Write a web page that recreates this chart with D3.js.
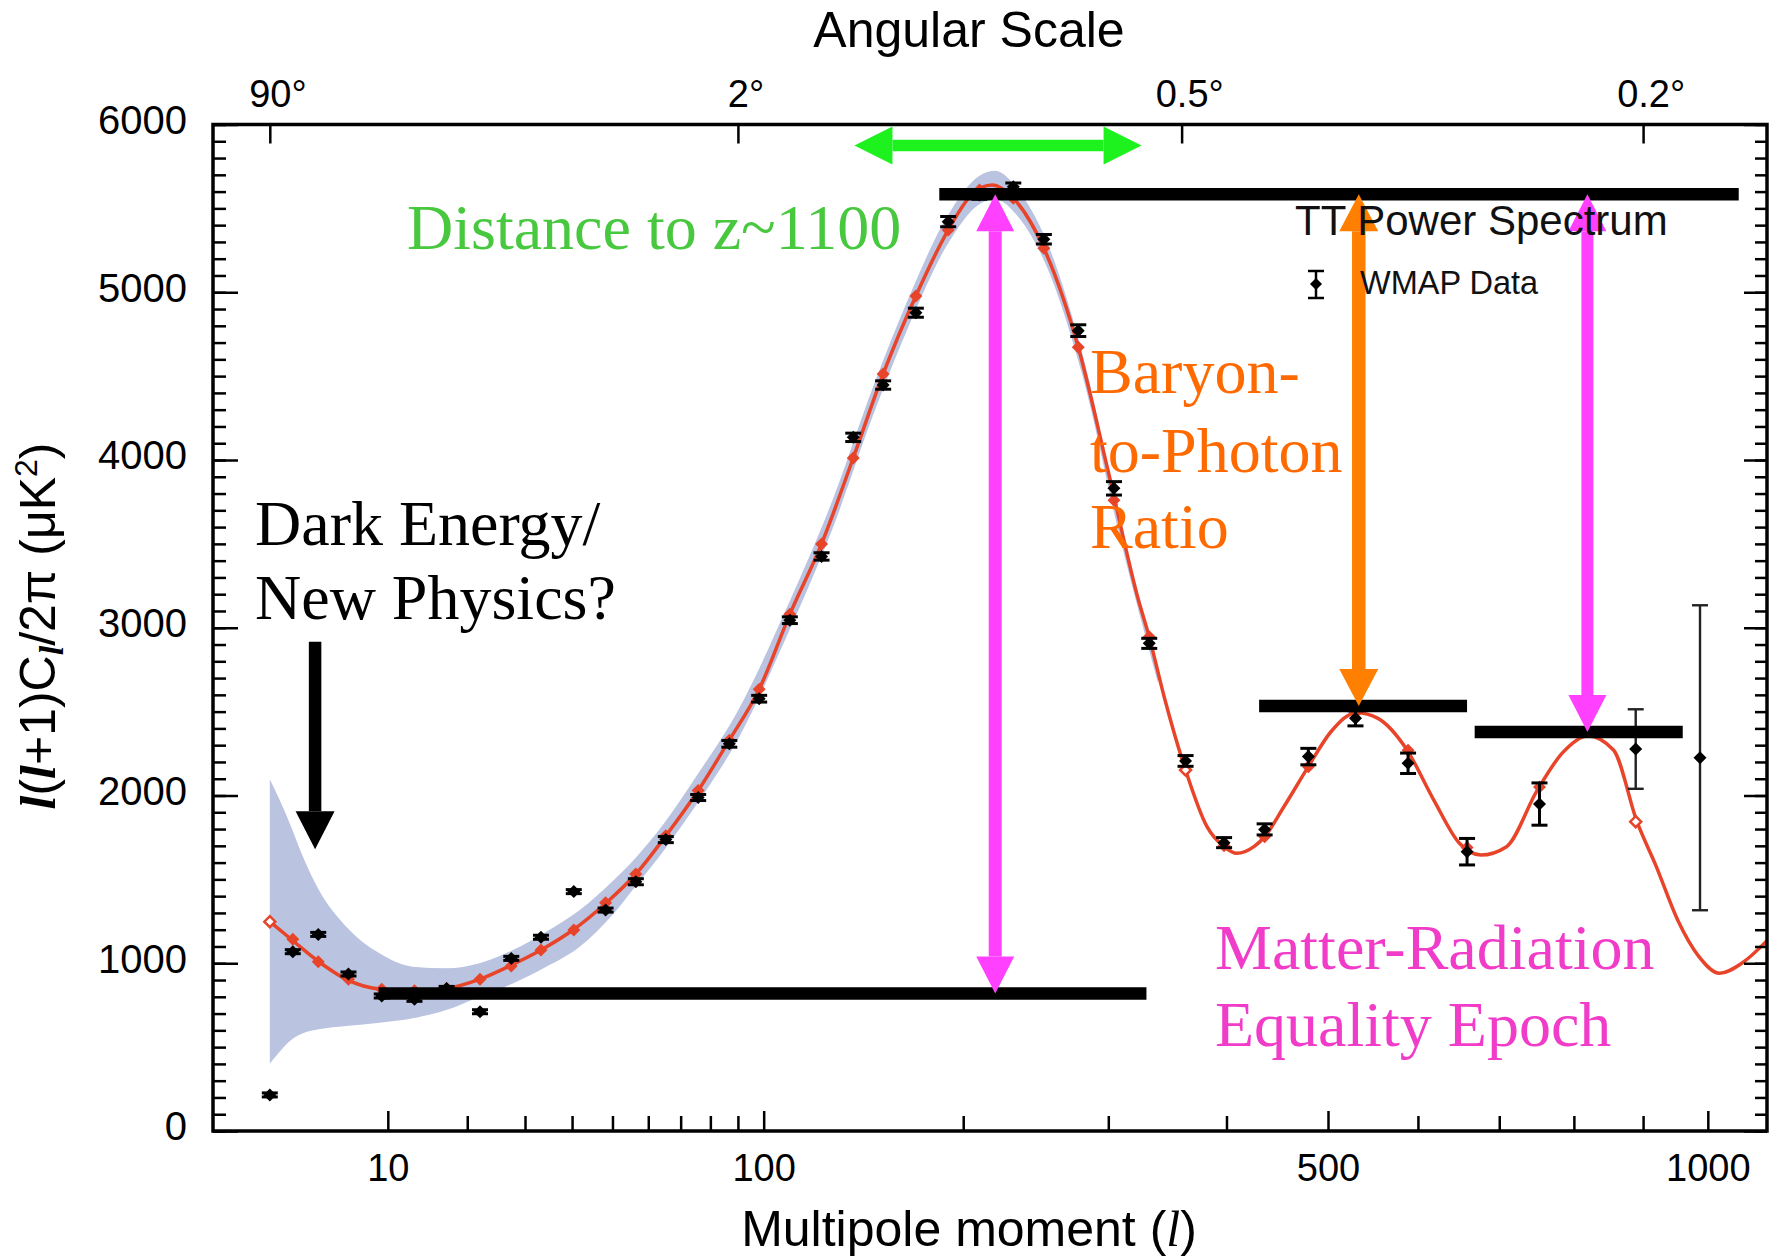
<!DOCTYPE html>
<html>
<head>
<meta charset="utf-8">
<script src="https://cdn.jsdelivr.net/npm/d3@7"></script>
<style>
  body { margin: 0; background: #fff; }
  text { font-family: "Liberation Sans", Arial, sans-serif; }
  .serif { font-family: "Liberation Serif", "Times New Roman", serif; }
</style>
</head>
<body>
<div id="chart"></div>
<script>
// WMAP binned TT data: multipole, power (uK^2), error
const dataL = [2, 3, 4.4, 6.5, 9.4, 12.9, 17, 22, 27.4, 33.2, 40.4, 48.2,
  56.4, 65.3, 75.8, 86.8, 98.2, 110.8, 124.8, 139.8, 154.9, 172.5, 191, 210,
  231.8, 252.6, 277.3, 304.4, 332.7, 363.4, 397.8, 436, 479.6, 529.4, 588.5,
  659.3, 752.9, 889, 987.6];
const dataV = [215, 1069, 1172, 936, 805, 785, 850, 711, 1029, 1155, 1427, 1317,
  1486, 1737, 1988, 2308, 2577, 3045, 3425, 4135, 4447, 4878, 5421, 5580,
  5629, 5316, 4771, 3831, 2907, 2206, 1719, 1798, 2232, 2460, 2192,
  1665, 1949, 2277, 2225];
const dataErr = [12, 12, 12, 12, 12, 12, 12, 12, 12, 12, 12, 12,
  18, 18, 18, 20, 20, 20, 22, 25, 25, 27, 30, 25,
  22, 28, 35, 40, 30, 32, 30, 33, 49, 45, 61,
  79, 126, 237, 909];

// best-fit model sampled along the curve
const modelL = [2, 2.92, 4.44, 6.33, 9.35, 12.9, 17, 21.9, 27.1, 33.2, 40.2, 48.4,
  56.4, 65.3, 75.8, 86.8, 98.2, 110.8, 124.8, 139.8, 154.9, 172.5, 191, 205, 218,
  231.8, 252.6, 277.3, 300, 323.9, 332.6, 345.1, 363.4, 382.3, 397.7, 409.7, 425.7,
  436, 454.9, 479.6, 503.1, 530.7, 554.2, 586.1, 618.8, 649.9, 676.5, 709.4, 748.9,
  783.5, 819.5, 856.4, 890.9, 919.9, 952.6, 985.9, 1018.8, 1055, 1097];
const modelV = [1248, 1143, 1009, 904, 845, 836, 850, 904, 984, 1079, 1198, 1361,
  1532, 1760, 2030, 2330, 2634, 3080, 3500, 4012, 4513, 4978, 5371, 5580, 5639,
  5560, 5262, 4672, 3930, 3165, 2947, 2589, 2152, 1814, 1695, 1655, 1695,
  1754, 1933, 2172, 2380, 2494, 2460, 2281, 1973, 1715, 1645, 1695, 2023,
  2251, 2355, 2271, 1844, 1576, 1258, 1040, 940, 1000, 1135];

// model value at each bin centre (red diamonds)
const binModelV = [1248, 1143, 1009, 904, 845, 836, 850, 904, 984, 1079, 1198, 1361,
  1532, 1760, 2030, 2330, 2634, 3080, 3500, 4012, 4513, 4978, 5371, 5610,
  5560, 5262, 4672, 3760, 2947, 2152, 1700, 1754, 2172, 2494, 2270,
  1690, 2050, 1844, null];
const openBins = [2, 363.4, 889];

// cosmic variance band
const bandL  = [2, 2.4, 2.92, 3.52, 4.44, 6.33, 9.19, 12.72, 16.95, 21.93, 27.7, 34.3,
  41.8, 50.1, 56, 65, 75, 90, 110, 130, 150, 170, 190, 210, 220, 235, 255, 280, 310, 340];
const bandLo = [403, 473, 542, 582, 606, 626, 646, 672, 721, 801, 880, 979,
  1099, 1290, 1450, 1680, 1940, 2335, 2965, 3595, 4275, 4835, 5275, 5525, 5555, 5450, 5145, 4515, 3510, 2670];
const bandHi = [2097, 1973, 1814, 1635, 1437, 1218, 1059, 979, 970, 1000, 1079, 1188,
  1317, 1490, 1620, 1840, 2110, 2505, 3135, 3765, 4445, 5005, 5445, 5695, 5725, 5610, 5295, 4645, 3610, 2730];

// axes
const yMajor = [0, 1000, 2000, 3000, 4000, 5000, 6000];
const yMinor = d3.range(0, 6001, 100);
const xMajor = [10, 100, 500, 1000];
const xMinor = [20, 30, 40, 50, 60, 70, 80, 90, 200, 300, 400, 600, 700, 800, 900];
const angTicks = [2, 90, 360, 900];
const angLabels = ["90°", "2°", "0.5°", "0.2°"];

const W = 1771, H = 1257;
const margin = { top: 124.5, right: 4, bottom: 126, left: 213 };
const width = W - margin.left - margin.right,
      height = H - margin.top - margin.bottom;

const svg = d3.select("#chart").append("svg")
    .attr("width", W).attr("height", H);
const g = svg.append("g")
    .attr("transform", "translate(" + margin.left + "," + margin.top + ")");

const x = d3.scalePow().exponent(0.4).domain([0.48, 1097]).range([0, width]);
const y = d3.scaleLinear().domain([0, 6000]).range([height, 0]);

const plot = g.append("g");
plot.append("clipPath").attr("id", "clip")
  .append("rect").attr("width", width).attr("height", height);
const inner = plot.append("g").attr("clip-path", "url(#clip)");

// band
const band = bandL.map((l, i) => ({ l, lo: bandLo[i], hi: bandHi[i] }));
inner.append("path")
    .datum(band)
    .attr("fill", "#bac4e1")
    .attr("d", d3.area()
        .x(d => x(d.l)).y0(d => y(d.lo)).y1(d => y(d.hi))
        .curve(d3.curveMonotoneX));

// model curve
const model = modelL.map((l, i) => ({ l, v: modelV[i] }));
inner.append("path")
    .datum(model)
    .attr("fill", "none")
    .attr("stroke", "#e8442a")
    .attr("stroke-width", 3.5)
    .attr("d", d3.line().x(d => x(d.l)).y(d => y(d.v)).curve(d3.curveMonotoneX));

function diamond(cx, cy, rx, ry) {
  return "M" + cx + "," + (cy - ry) + "L" + (cx + rx) + "," + cy +
         "L" + cx + "," + (cy + ry) + "L" + (cx - rx) + "," + cy + "Z";
}

// model diamonds at bin centres
const bins = dataL.map((l, i) => ({ l, v: binModelV[i], open: openBins.includes(l) }))
    .filter(d => d.v !== null);
inner.selectAll(".mdl").data(bins).enter().append("path")
    .attr("d", d => d.open ? diamond(x(d.l), y(d.v), 5.5, 5.5) : diamond(x(d.l), y(d.v), 6.5, 6.5))
    .attr("fill", d => d.open ? "#fff" : "#e8442a")
    .attr("stroke", "#e8442a")
    .attr("stroke-width", d => d.open ? 2.5 : 0);

// data with error bars
const data = dataL.map((l, i) => ({ l, v: dataV[i], e: dataErr[i] }));
const pts = inner.selectAll(".pt").data(data).enter().append("g");
pts.append("line")
    .attr("x1", d => x(d.l)).attr("x2", d => x(d.l))
    .attr("y1", d => y(d.v - d.e)).attr("y2", d => y(d.v + d.e))
    .attr("stroke", d => d.e > 200 ? "#222" : "#000")
    .attr("stroke-width", d => d.e > 200 ? 2.4 : 3);
[-1, 1].forEach(s => {
  pts.append("line")
      .attr("x1", d => x(d.l) - 8).attr("x2", d => x(d.l) + 8)
      .attr("y1", d => y(d.v + s * d.e)).attr("y2", d => y(d.v + s * d.e))
      .attr("stroke", d => d.e > 200 ? "#222" : "#000")
      .attr("stroke-width", d => d.e > 200 ? 2.4 : 3);
});
pts.append("path")
    .attr("d", d => diamond(x(d.l), y(d.v), 6.5, 6.5))
    .attr("fill", "#000");

// axes
function styleAxis(sel) {
  sel.select(".domain").remove();
  sel.selectAll(".tick line").attr("stroke", "#000").attr("stroke-width", 2.5);
  sel.selectAll(".tick text").attr("fill", "#000")
     .style("font-family", "'Liberation Sans', Arial, sans-serif");
}
g.append("g").attr("transform", "translate(0," + height + ")")
    .call(d3.axisBottom(x).tickValues(xMajor).tickSize(-20).tickPadding(23).tickFormat(d3.format("d")))
    .call(styleAxis).selectAll("text").attr("font-size", 38);
g.append("g").attr("transform", "translate(0," + height + ")")
    .call(d3.axisBottom(x).tickValues(xMinor).tickSize(-15).tickFormat(""))
    .call(styleAxis);
g.append("g")
    .call(d3.axisTop(x).tickValues(angTicks).tickSize(-19).tickPadding(18)
        .tickFormat((d, i) => angLabels[i]))
    .call(styleAxis).selectAll("text").attr("font-size", 38).attr("dx", "0.2em");
g.append("g")
    .call(d3.axisLeft(y).tickValues(yMajor).tickSize(-25).tickPadding(26).tickFormat(d3.format("d")))
    .call(styleAxis).selectAll("text").attr("font-size", 40).attr("dy", "0.22em");
g.append("g")
    .call(d3.axisLeft(y).tickValues(yMinor).tickSize(-13).tickFormat(""))
    .call(styleAxis);
g.append("g").attr("transform", "translate(" + width + ",0)")
    .call(d3.axisRight(y).tickValues(yMajor).tickSize(-23).tickFormat(""))
    .call(styleAxis);
g.append("g").attr("transform", "translate(" + width + ",0)")
    .call(d3.axisRight(y).tickValues(yMinor).tickSize(-12).tickFormat(""))
    .call(styleAxis);

g.append("rect")
    .attr("width", width).attr("height", height)
    .attr("fill", "none").attr("stroke", "#000").attr("stroke-width", 3.5);

// axis titles
svg.append("text")
    .attr("x", 969).attr("y", 47).attr("text-anchor", "middle")
    .attr("font-size", 50).text("Angular Scale");
const xt = svg.append("text")
    .attr("x", 969).attr("y", 1246).attr("text-anchor", "middle")
    .attr("font-size", 50);
xt.append("tspan").text("Multipole moment (");
xt.append("tspan").attr("class", "serif").style("font-style", "italic").text("l");
xt.append("tspan").text(")");

const yt = svg.append("text")
    .attr("transform", "translate(55,626) rotate(-90)")
    .attr("text-anchor", "middle").attr("font-size", 50);
const ell = sel => sel.attr("class", "serif").style("font-style", "italic").style("font-weight", "bold").text("l");
yt.append("tspan").call(ell);
yt.append("tspan").text("(");
yt.append("tspan").call(ell);
yt.append("tspan").text("+1)C");
yt.append("tspan").attr("class", "serif").style("font-style", "italic").style("font-weight", "bold")
    .attr("font-size", 34).attr("dy", 8).text("l");
yt.append("tspan").attr("dy", -8).text("/2π (μK");
yt.append("tspan").attr("font-size", 32).attr("dy", -18).text("2");
yt.append("tspan").attr("dy", 18).text(")");

// legend
const lg = svg.append("g");
lg.append("text").attr("x", 1295).attr("y", 235).attr("font-size", 42).attr("fill", "#111")
    .text("TT Power Spectrum");
lg.append("line").attr("x1", 1316).attr("x2", 1316).attr("y1", 271).attr("y2", 298)
    .attr("stroke", "#000").attr("stroke-width", 2.5);
[271, 298].forEach(v => lg.append("line").attr("x1", 1308).attr("x2", 1324)
    .attr("y1", v).attr("y2", v).attr("stroke", "#000").attr("stroke-width", 2.5));
lg.append("path").attr("d", diamond(1316, 284, 6, 6)).attr("fill", "#000");
lg.append("text").attr("x", 1360).attr("y", 294).attr("font-size", 32.5).attr("fill", "#111")
    .text("WMAP Data");

// annotations (data coordinates)
const hLines = [
  { l0: 9.1, l1: 330.4, v: 820 },
  { l0: 185.8, l1: 1050, v: 5584 },
  { l0: 430.7, l1: 659.3, v: 2534 },
  { l0: 668.8, l1: 960.5, v: 2379 }
];
const ann = g.append("g");
ann.selectAll(".hl").data(hLines).enter().append("line")
    .attr("x1", d => x(d.l0)).attr("x2", d => x(d.l1))
    .attr("y1", d => y(d.v)).attr("y2", d => y(d.v))
    .attr("stroke", "#000").attr("stroke-width", 12.5);

function arrow(p1, p2, color, double, shaft, head, headW) {
  const dx = p2[0] - p1[0], dy = p2[1] - p1[1], len = Math.hypot(dx, dy);
  const ux = dx / len, uy = dy / len, nx = -uy, ny = ux;
  const s = double ? [p1[0] + ux * head, p1[1] + uy * head] : p1;
  const e = [p2[0] - ux * head, p2[1] - uy * head];
  ann.append("line").attr("x1", s[0]).attr("y1", s[1]).attr("x2", e[0]).attr("y2", e[1])
      .attr("stroke", color).attr("stroke-width", shaft);
  const tri = (tip, base) => ann.append("path").attr("fill", color).attr("d",
      "M" + tip[0] + "," + tip[1] +
      "L" + (base[0] + nx * headW / 2) + "," + (base[1] + ny * headW / 2) +
      "L" + (base[0] - nx * headW / 2) + "," + (base[1] - ny * headW / 2) + "Z");
  tri(p2, e);
  if (double) tri(p1, s);
}

arrow([x(140.4), y(5875)], [x(326.4), y(5875)], "#1ef21e", true, 11.5, 38, 38);
arrow([x(4.21), y(2917)], [x(4.21), y(1679)], "#000", false, 12.5, 38, 39);
arrow([x(220), y(820)], [x(220), y(5584)], "#ff40ff", true, 13, 37, 38);
arrow([x(533), y(2534)], [x(533), y(5584)], "#ff7f00", true, 13.5, 37, 39);
arrow([x(819), y(2379)], [x(819), y(5584)], "#ff40ff", true, 12, 37, 38);

// text annotations
const note = (tx, ty, str, color) => svg.append("text").attr("class", "serif")
    .attr("x", tx).attr("y", ty).attr("font-size", 64).attr("fill", color).text(str);
note(407, 249, "Distance to z~1100", "#47c83e");
note(255, 545, "Dark Energy/", "#000");
note(255, 619, "New Physics?", "#000");
note(1090, 393, "Baryon-", "#ff6a00");
note(1090, 472, "to-Photon", "#ff6a00");
note(1090, 548, "Ratio", "#ff6a00");
note(1215, 969, "Matter-Radiation", "#f03cc8");
note(1215, 1046, "Equality Epoch", "#f03cc8");
</script>
</body>
</html>
